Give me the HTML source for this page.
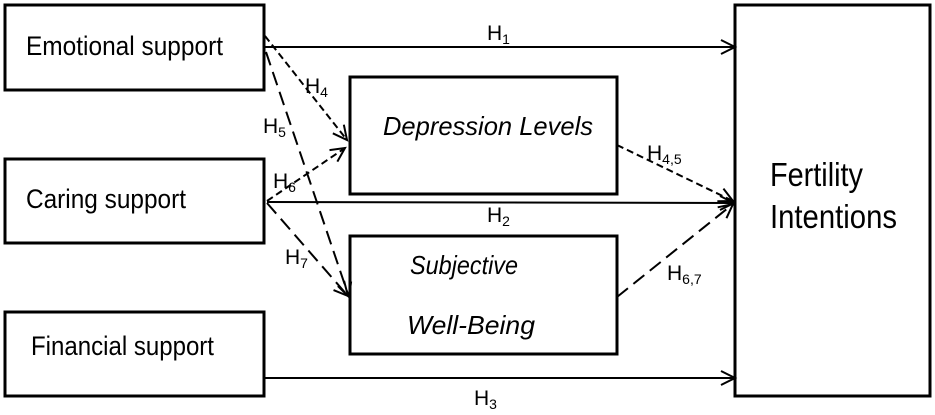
<!DOCTYPE html>
<html><head><meta charset="utf-8"><style>
html,body{margin:0;padding:0;background:#fff;}
svg{display:block;}
text{font-family:"Liberation Sans",Arial,sans-serif;fill:#000;}
</style></head><body>
<svg width="935" height="415" viewBox="0 0 935 415" xmlns="http://www.w3.org/2000/svg">
<defs>
<marker id="a" markerUnits="userSpaceOnUse" markerWidth="20" markerHeight="20" refX="15" refY="8" orient="auto">
<path d="M1,1 L15,8 L1,15" fill="none" stroke="#000" stroke-width="2"/>
</marker>
</defs>
<g fill="none" stroke="#000" stroke-width="3">
<rect x="5" y="5" width="259" height="85"/>
<rect x="5" y="159" width="259" height="84"/>
<rect x="5" y="312" width="259" height="84"/>
<rect x="350" y="77" width="267" height="117"/>
<rect x="350" y="236" width="267" height="118"/>
<rect x="735" y="5" width="195" height="391"/>
</g>
<g fill="none" stroke="#000" stroke-width="2">
<line x1="264" y1="47" x2="735" y2="47" marker-end="url(#a)"/>
<line x1="267" y1="202" x2="734" y2="203" marker-end="url(#a)"/>
<line x1="264" y1="378" x2="735" y2="378" marker-end="url(#a)"/>
<line x1="265" y1="36" x2="347" y2="140" stroke-dasharray="7,4" marker-end="url(#a)"/>
<line x1="266" y1="52" x2="349" y2="297" stroke-dasharray="14,7" marker-end="url(#a)"/>
<line x1="267" y1="201" x2="345" y2="148" stroke-dasharray="7,4" marker-end="url(#a)"/>
<line x1="267" y1="203" x2="348" y2="296" stroke-dasharray="14,7" marker-end="url(#a)"/>
<line x1="617" y1="145" x2="733" y2="201" stroke-dasharray="7,4" marker-end="url(#a)"/>
<line x1="617" y1="297" x2="733" y2="204" stroke-dasharray="14,7" marker-end="url(#a)"/>
</g>
<text x="26" y="55" font-size="27" textLength="197" lengthAdjust="spacingAndGlyphs">Emotional support</text>
<text x="26" y="208" font-size="27" textLength="160" lengthAdjust="spacingAndGlyphs">Caring support</text>
<text x="31" y="355" font-size="27" textLength="183" lengthAdjust="spacingAndGlyphs">Financial support</text>
<g font-style="italic" font-size="26">
<text x="383" y="135" textLength="210" lengthAdjust="spacingAndGlyphs">Depression  Levels</text>
<text x="410" y="274" textLength="108" lengthAdjust="spacingAndGlyphs">Subjective</text>
<text x="407" y="334" textLength="128" lengthAdjust="spacingAndGlyphs">Well-Being</text>
</g>
<text x="770" y="186" font-size="33" textLength="93" lengthAdjust="spacingAndGlyphs">Fertility</text>
<text x="770" y="228" font-size="33" textLength="127" lengthAdjust="spacingAndGlyphs">Intentions</text>
<g font-size="21">
<text x="487" y="40">H<tspan font-size="14" dy="4">1</tspan></text>
<text x="487" y="222">H<tspan font-size="14" dy="4">2</tspan></text>
<text x="474" y="405">H<tspan font-size="14" dy="4">3</tspan></text>
<text x="305" y="93">H<tspan font-size="14" dy="4">4</tspan></text>
<text x="263" y="133">H<tspan font-size="14" dy="4">5</tspan></text>
<text x="273" y="188">H<tspan font-size="14" dy="4">6</tspan></text>
<text x="285" y="264">H<tspan font-size="14" dy="4">7</tspan></text>
<text x="647" y="160">H<tspan font-size="14" dy="4">4,5</tspan></text>
<text x="667" y="280">H<tspan font-size="14" dy="4">6,7</tspan></text>
</g>
</svg>
</body></html>
